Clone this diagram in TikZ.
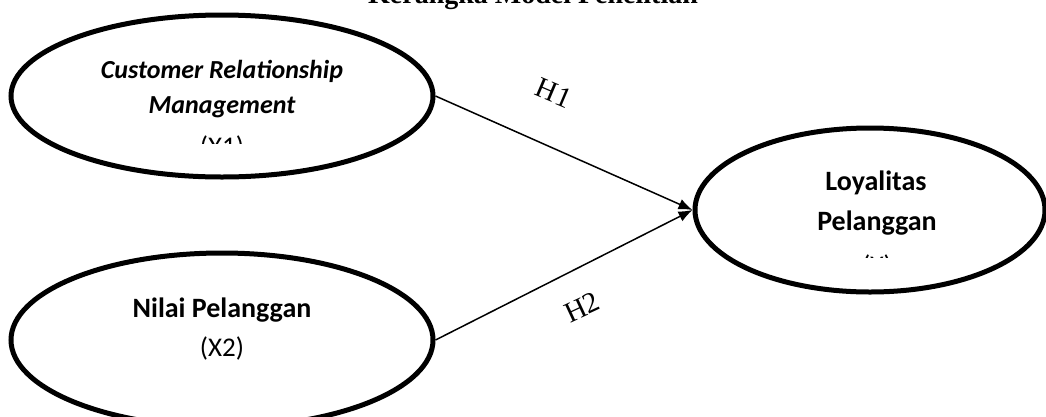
\documentclass[tikz,border=0pt]{standalone}
\usepackage{fontspec}
\setmainfont{Carlito}
\newfontfamily\tnr{Liberation Serif}
\usetikzlibrary{shapes.geometric,arrows.meta}
\begin{document}
\begin{tikzpicture}[x=1pt,y=-1pt,
  latent/.style={draw,ellipse,line width=5pt,inner sep=0pt},
  lbl/.style={font=\fontsize{27}{32}\selectfont,inner sep=0pt,anchor=base},
  hyp/.style={font=\tnr\fontsize{29}{34}\selectfont,inner sep=0pt},
  path/.style={line width=1.5pt,-{Latex[length=14pt,width=11pt]}}]
\useasboundingbox (0,0) rectangle (1046,416);
\node[font=\tnr\bfseries\fontsize{28}{32}\selectfont,anchor=base,inner sep=0pt] (title) at (533,3) {Kerangka Model Penelitian};
\node[latent,minimum width=422pt,minimum height=162pt] (x1) at (222,96) {};
\node[latent,minimum width=422pt,minimum height=174pt] (x2) at (222,340) {};
\node[latent,minimum width=350pt,minimum height=164pt] (y) at (870,210) {};
\node[lbl,font=\fontsize{26}{30}\selectfont\bfseries\itshape] (t1) at (222,78) {Customer Relationship};
\node[lbl,font=\fontsize{26}{30}\selectfont\bfseries\itshape] (t2) at (222,113) {Management};
\begin{scope}
\clip (150,120) rectangle (300,143);
\node[lbl] (t3) at (222,155) {(X1)};
\end{scope}
\node[lbl,font=\fontsize{28}{32}\selectfont\bfseries] (t4) at (222,317) {Nilai Pelanggan};
\node[lbl] (t5) at (222,356) {(X2)};
\node[lbl,font=\fontsize{28}{32}\selectfont\bfseries] (t6) at (876,190) {Loyalitas};
\node[lbl,font=\fontsize{28}{32}\selectfont\bfseries] (t7) at (877,230) {Pelanggan};
\begin{scope}
\clip (820,240) rectangle (940,257);
\node[lbl] (t8) at (877,274) {(Y)};
\end{scope}
\draw[path] (x1.east) -- (y.west);
\draw[path] (x2.east) -- (y.west);
\node[hyp,rotate=-23] (h1) at (554,93) {H1};
\node[hyp,rotate=25] (h2) at (582,307) {H2};
\end{tikzpicture}
\end{document}
